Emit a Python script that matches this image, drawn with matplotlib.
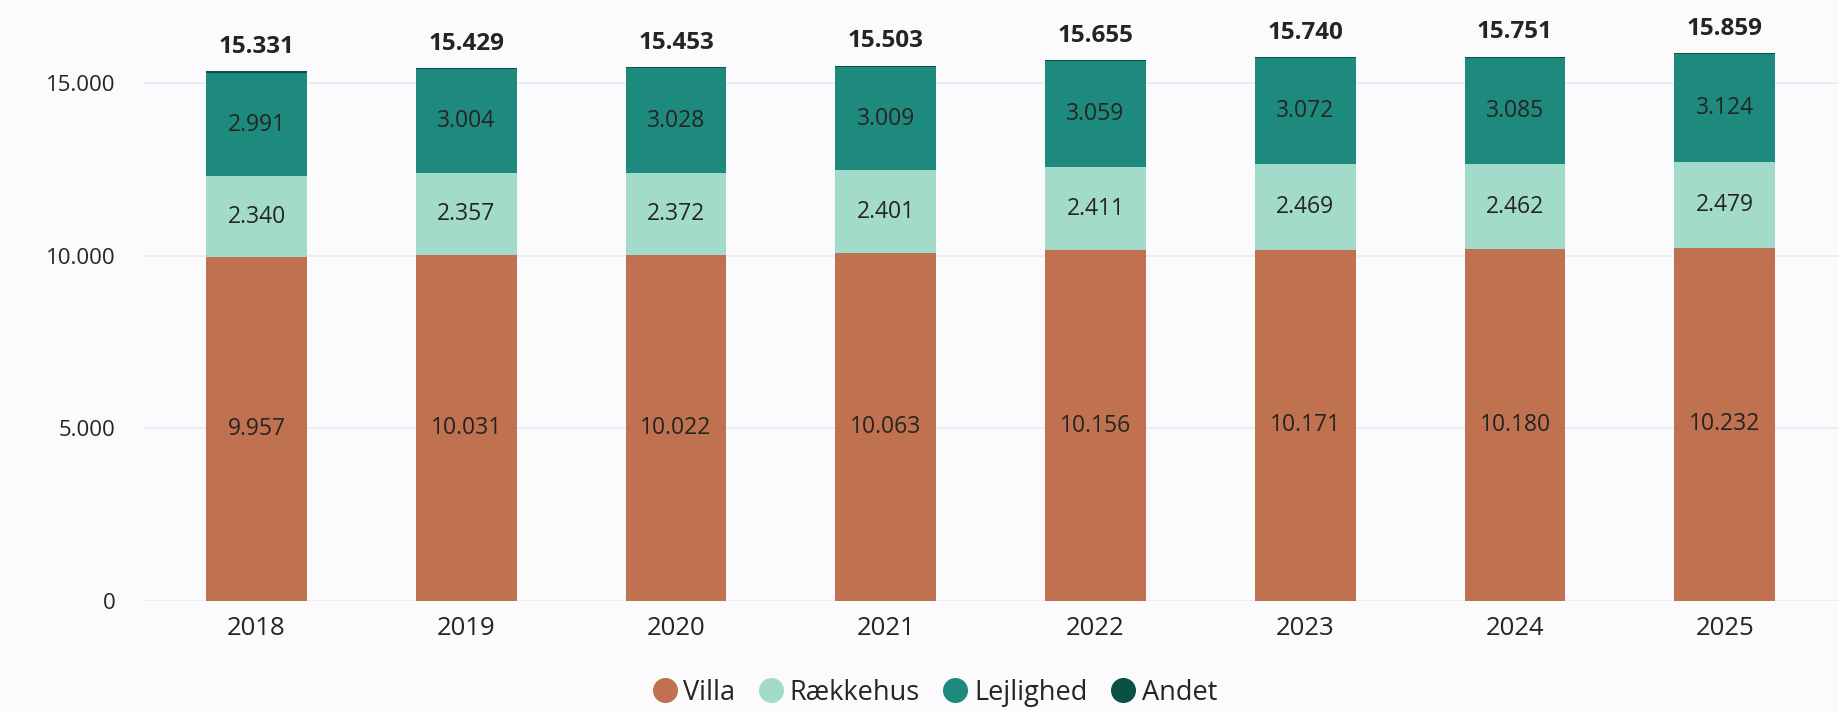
import matplotlib.pyplot as plt
from matplotlib.lines import Line2D
import numpy as np

plt.rcParams['font.family'] = ['Open Sans', 'DejaVu Sans']

years = ["2018", "2019", "2020", "2021", "2022", "2023", "2024", "2025"]
villa = [9957, 10031, 10022, 10063, 10156, 10171, 10180, 10232]
raekkehus = [2340, 2357, 2372, 2401, 2411, 2469, 2462, 2479]
lejlighed = [2991, 3004, 3028, 3009, 3059, 3072, 3085, 3124]
andet = [43, 37, 31, 30, 29, 28, 24, 24]
totals = [15331, 15429, 15453, 15503, 15655, 15740, 15751, 15859]

series = [("Villa", villa, "#C0714F"),
          ("Rækkehus", raekkehus, "#A3DBCB"),
          ("Lejlighed", lejlighed, "#1E8A7E"),
          ("Andet", andet, "#0A5045")]


def fmt(v):
    return f"{v:,}".replace(",", ".")


bg = "#FBFBFE"
fig = plt.figure(figsize=(18.38, 7.11), dpi=100, facecolor=bg)
ax = fig.add_axes([0.078, 0.1547, 0.922, 0.8453], facecolor=bg)

x = np.arange(len(years))
bottom = np.zeros(len(years))
for name, vals, col in series:
    ax.bar(x, vals, width=0.48, bottom=bottom, color=col, zorder=3)
    if name != "Andet":
        for xi, b, v in zip(x, bottom, vals):
            ax.text(xi, b + v / 2, fmt(v), ha="center", va="center",
                    fontsize=16.5, color="#252423", zorder=4)
    bottom = bottom + np.array(vals)

for xi, t in zip(x, totals):
    ax.annotate(fmt(t), (xi, t), xytext=(0, 9), textcoords="offset points",
                ha="center", va="bottom", fontsize=17.5, fontweight="bold",
                color="#252423")

ax.set_xlim(-0.54, len(years) - 0.46)
ax.set_ylim(0, 17400)
ax.set_yticks([0, 5000, 10000, 15000])
ax.set_yticklabels([fmt(v) for v in [0, 5000, 10000, 15000]])
ax.set_xticks(x)
ax.set_xticklabels(years)
ax.tick_params(axis="both", length=0, labelcolor="#252423")
ax.tick_params(axis="y", pad=20, labelsize=16)
ax.tick_params(axis="x", pad=11, labelsize=18.5)
ax.grid(axis="y", color="#EAEAF0", linewidth=1.2, zorder=0)
for s in ax.spines.values():
    s.set_visible(False)

handles = [Line2D([], [], marker="o", linestyle="none", markersize=17,
                  markerfacecolor=col, markeredgecolor=col)
           for _, _, col in series]
fig.legend(handles, [n for n, _, _ in series], loc="center",
           bbox_to_anchor=(0.5045, 0.026), ncol=4, frameon=False,
           fontsize=19.5, handletextpad=-0.3, columnspacing=0.3,
           labelcolor="#252423")

fig.savefig("out.png", dpi=100, facecolor=bg)
